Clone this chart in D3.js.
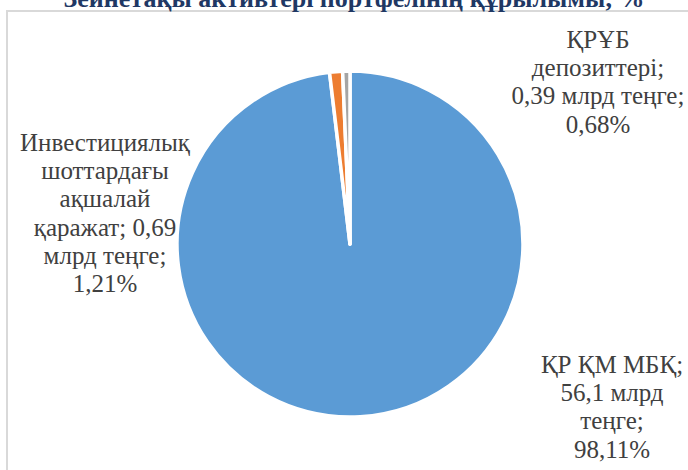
<!DOCTYPE html>
<html><head><meta charset="utf-8">
<script src="https://cdn.jsdelivr.net/npm/d3@7"></script>
<style>html,body{margin:0;padding:0;background:#fff;overflow:hidden}
.serif{font-family:'Liberation Serif','Tinos','Times New Roman','DejaVu Serif',serif}</style>
</head><body>
<svg id="c" width="688" height="470"></svg>
<script>
const title = "Зейнетақы активтері портфелінің құрылымы, %";
const categories = ["ҚР ҚМ МБҚ", "Инвестициялық шоттардағы ақшалай қаражат", "ҚРҰБ депозиттері"];
const amounts = [56.1, 0.69, 0.39];
const shares = [98.11, 1.21, 0.68];
const colors = ["#5B9BD5", "#ED7D31", "#A5A5A5"];
const labelLines = [
  ["ҚР ҚМ МБҚ;", "56,1 млрд", "теңге;", "98,11%"],
  ["Инвестициялық", "шоттардағы", "ақшалай", "қаражат; 0,69", "млрд теңге;", "1,21%"],
  ["ҚРҰБ", "депозиттері;", "0,39 млрд теңге;", "0,68%"]
];
const labelPos = [[612, 373], [105, 151], [598, 48]];

const svg = d3.select("#c");
svg.append("rect").attr("x", 7).attr("y", 11).attr("width", 700).attr("height", 480)
  .attr("fill", "#fff").attr("stroke", "#D9D9D9").attr("stroke-width", 2);

svg.append("text").attr("class", "serif").attr("x", 354).attr("y", 7).attr("text-anchor", "middle")
  .attr("font-weight", "bold")
  .attr("font-size", 26).attr("fill", "#1F3864").text(title);

const cx = 350, cy = 244, r = 173;
const pie = d3.pie().sort(null).value(d => d)(shares);
const arc = d3.arc().innerRadius(0).outerRadius(r);
const g = svg.append("g").attr("transform", `translate(${cx},${cy})`);
g.selectAll("path").data(pie).join("path")
  .attr("d", arc).attr("fill", (d, i) => colors[i])
  .attr("stroke", "#fff").attr("stroke-width", 3.5).attr("stroke-linejoin", "round");

labelLines.forEach((lines, i) => {
  const t = svg.append("text").attr("class", "serif").attr("text-anchor", "middle")
    .attr("font-size", 25).attr("fill", "#404040");
  lines.forEach((l, j) => {
    t.append("tspan").attr("x", labelPos[i][0]).attr("y", labelPos[i][1] + j * 28.2).text(l);
  });
});
</script>
</body></html>
